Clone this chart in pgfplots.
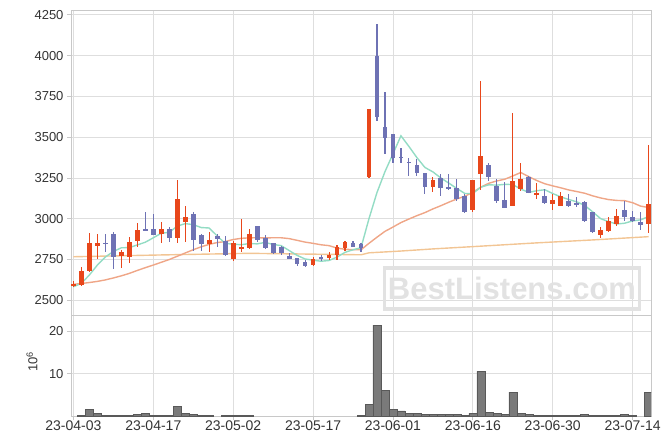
\documentclass[border=0pt]{standalone}
\usepackage{pgfplots}
\pgfplotsset{compat=1.18}
\usepackage{pgfplotstable}
\usepackage{fontspec}
\setmainfont{Liberation Sans}
\definecolor{upc}{HTML}{E8471B}
\definecolor{dnc}{HTML}{6E72B4}
\definecolor{ma5c}{HTML}{93DCC4}
\definecolor{ma20c}{HTML}{EFA687}
\definecolor{ma60c}{HTML}{F2C594}
\definecolor{gridc}{HTML}{DEDEDE}
\definecolor{axc}{HTML}{C8C8C8}
\definecolor{txt}{HTML}{333333}
\definecolor{volc}{HTML}{7A7A7A}
\definecolor{wmc}{HTML}{E2E2E2}

\pgfplotstableread{
i o h l c
0 2585 2620 2580 2600
1 2595 2706 2590 2680
2 2682 2910 2675 2850
3 2830 2904 2751 2850
6 2771 2808 2696 2794
7 2767 2890 2727 2857
8 2865 2972 2828 2931
11 2904 2978 2849 2935
13 2884 3237 2853 3121
14 2982 3078 2859 3008
17 2847 2918 2794 2871
20 2755 2865 2743 2849
21 2814 3000 2796 2827
22 2822 2935 2816 2906
30 2714 2763 2708 2751
32 2761 2794 2749 2778
33 2776 2839 2747 2825
34 2822 2865 2804 2857
37 3254 3675 3250 3670
45 3196 3254 3165 3237
50 3053 3239 3043 3237
51 3276 3845 3176 3384
55 3078 3646 3076 3231
56 3184 3339 3172 3243
58 3147 3217 3119 3157
60 3092 3149 3053 3115
61 3080 3162 3078 3139
66 2900 2951 2880 2931
67 2926 3009 2920 2986
68 2966 3058 2955 3016
72 2966 3451 2910 3090
}\upT

\pgfplotstableread{
i o h l c
4 2852 2904 2798 2848
5 2906 2917 2690 2767
9 2935 3039 2925 2931
10 2935 3029 2902 2902
12 2935 2947 2859 2884
15 3031 3039 2804 2871
16 2902 2906 2802 2845
18 2894 2906 2825 2877
19 2863 2896 2771 2779
23 2955 2957 2859 2869
24 2884 2898 2814 2822
25 2849 2851 2784 2788
26 2825 2835 2776 2792
27 2771 2788 2751 2755
28 2757 2761 2712 2720
29 2733 2745 2706 2712
31 2763 2776 2743 2759
35 2849 2863 2825 2829
36 2843 2853 2794 2822
38 3997 4191 3600 3625
39 3562 3778 3396 3496
40 3519 3521 3339 3374
41 3380 3435 3339 3376
42 3347 3370 3263 3343
43 3327 3364 3262 3282
44 3278 3280 3151 3196
46 3251 3272 3141 3190
47 3194 3272 3176 3184
48 3190 3241 3110 3119
49 3139 3151 3033 3043
52 3329 3339 3231 3257
53 3200 3241 3098 3108
54 3115 3227 3065 3067
57 3257 3259 3155 3159
59 3139 3180 3090 3098
62 3108 3149 3070 3080
63 3098 3131 3073 3086
64 3102 3108 2982 2988
65 3039 3043 2910 2917
69 3053 3108 2988 3012
70 3008 3047 2980 2988
71 2980 3041 2931 2963
}\dnT

\pgfplotstableread{
i v
0 2583
1 2604
2 2655
3 2716
4 2765.6
5 2799
6 2821.8
7 2823.2
8 2839.4
9 2856
10 2883
11 2911.2
12 2916.6
13 2954.6
14 2970
15 2963.8
16 2945.8
17 2943.2
18 2894.4
19 2848.6
20 2844.2
21 2840.6
22 2847.6
23 2846
24 2854.6
25 2842.4
26 2835.4
27 2805.2
28 2775.4
29 2753.4
30 2746
31 2739.4
32 2744
33 2765
34 2794
35 2809.6
36 2822.2
37 3000.6
38 3160.6
39 3288.4
40 3397.4
41 3508.2
42 3442.8
43 3374.2
44 3314.2
45 3286.8
46 3249.6
47 3217.8
48 3185.2
49 3154.6
50 3154.6
51 3193.4
52 3208
53 3205.8
54 3210.6
55 3209.4
56 3181.2
57 3161.6
58 3171.4
59 3177.6
60 3154.4
61 3133.6
62 3117.8
63 3103.6
64 3081.6
65 3042
66 3000.4
67 2981.6
68 2967.6
69 2972.4
70 2986.6
71 2993
72 3013.8
}\maA

\pgfplotstableread{
i v
0 2598
1 2603
2 2609
3 2616
4 2625
5 2637
6 2650
7 2665
8 2683
9 2700
10 2716
11 2733
12 2750
13 2770
14 2790
15 2810
16 2828
17 2843
18 2854
19 2860
20 2872.5
21 2879.9
22 2882.7
23 2883.6
24 2882.3
25 2883.4
26 2883.3
27 2878.2
28 2867.6
29 2856.7
30 2849.1
31 2840.3
32 2835
33 2820.2
34 2812.7
35 2810.6
36 2809.4
37 2849.4
38 2886.8
39 2922.6
40 2948.9
41 2976.3
42 2998.2
43 3018.8
44 3037.5
45 3060
46 3079.9
47 3101.3
48 3121.3
49 3137.8
50 3162.1
51 3193.4
52 3217.3
53 3231.5
54 3242
55 3262.1
56 3283.1
57 3257.6
58 3234.2
59 3214.3
60 3201.3
61 3189.5
62 3176.3
63 3166.5
64 3156.1
65 3140.1
66 3127.2
67 3117.3
68 3112.1
69 3110.6
70 3098.1
71 3077.1
72 3068.7
}\maB

\pgfplotstableread{
i v
0 2767
11 2778
22 2788
36 2779
37 2791
41 2802
45 2815
50 2829
58 2852
65 2870
72 2890
}\maC

\pgfplotstableread{
i v
1 0.15
2 1.6
3 0.6
4 0.15
5 0.15
6 0.15
7 0.15
8 0.45
9 0.7
10 0.15
11 0.15
12 0.15
13 2.3
14 0.6
15 0.4
16 0.15
17 0.15
19 0.15
20 0.15
21 0.15
22 0.15
36 0.15
37 2.7
38 21.4
39 6.0
40 1.6
41 1.2
42 0.6
43 0.6
44 0.4
45 0.4
46 0.4
47 0.4
48 0.4
49 0.15
50 0.6
51 10.5
52 0.9
53 0.6
54 0.4
55 5.6
56 0.6
57 0.4
58 0.15
59 0.15
60 0.15
61 0.15
62 0.15
63 0.15
64 0.4
65 0.15
66 0.15
67 0.15
68 0.15
69 0.4
70 0.15
72 5.6
}\volT

\begin{document}
\begin{tikzpicture}
\useasboundingbox (0,0) rectangle (671pt,445pt);
\pgfplotsset{base/.style={
  scale only axis, width=580pt,
  xmin=-0.3, xmax=72.3, xtick={0,10,...,70},
  grid=major, major grid style={gridc, line width=0.8pt},
  axis line style={axc, line width=0.8pt},
  tick style={axc, line width=0.8pt},
  major tick length=4pt, tick align=outside,
  xtick pos=bottom, ytick pos=left,
  ticklabel style={font=\fontsize{13}{15}\selectfont, text=txt},
  /pgf/number format/assume math mode=true,
  /pgf/number format/1000 sep={},
}}
\begin{axis}[base, at={(71pt,130pt)}, anchor=south west, height=305pt,
  ymin=2410, ymax=4279, ytick={2500,2750,...,4250},
  xticklabels={}, xtick style={draw=none}]
\addplot[ma60c, line width=1.4pt] table[x=i,y=v]{\maC};
\addplot[ma20c, line width=1.4pt] table[x=i,y=v]{\maB};
\addplot[ma5c, line width=1.4pt] table[x=i,y=v]{\maA};
% wicks
\addplot[draw=none, error bars/.cd, y dir=both, y explicit, error mark=none,
  error bar style={draw=upc, line width=1.1pt}]
  table[x=i, y expr={(\thisrow{h}+\thisrow{l})/2}, y error expr={(\thisrow{h}-\thisrow{l})/2}]{\upT};
\addplot[draw=none, error bars/.cd, y dir=both, y explicit, error mark=none,
  error bar style={draw=dnc, line width=1.1pt}]
  table[x=i, y expr={(\thisrow{h}+\thisrow{l})/2}, y error expr={(\thisrow{h}-\thisrow{l})/2}]{\dnT};
% bodies
\addplot[draw=none, error bars/.cd, y dir=both, y explicit, error mark=none,
  error bar style={draw=upc, line width=4.8pt}]
  table[x=i, y expr={(\thisrow{o}+\thisrow{c})/2}, y error expr={abs(\thisrow{c}-\thisrow{o})/2}]{\upT};
\addplot[draw=none, error bars/.cd, y dir=both, y explicit, error mark=none,
  error bar style={draw=dnc, line width=4.8pt}]
  table[x=i, y expr={(\thisrow{o}+\thisrow{c})/2}, y error expr={abs(\thisrow{c}-\thisrow{o})/2}]{\dnT};
\node[draw=wmc, line width=3.5pt, text=wmc, font=\bfseries\fontsize{31}{31}\selectfont,
  minimum width=255pt, minimum height=41pt, inner sep=0pt] at (axis cs:54.9,2572) {BestListens.com};
\end{axis}
\begin{axis}[base, at={(71pt,29pt)}, anchor=south west, height=101pt,
  ymin=0, ymax=23.8, ytick={10,20},
  xticklabels={23-04-03,23-04-17,23-05-02,23-05-17,23-06-01,23-06-16,23-06-30,23-07-14},
  xticklabel style={font=\fontsize{14}{16}\selectfont, inner sep=1pt},
  ylabel={10\textsuperscript{6}},
  ylabel style={at={(axis description cs:-0.0672,0.535)}, anchor=center, font=\fontsize{13}{15}\selectfont, text=txt}]
\addplot[ybar, bar width=1, bar shift=0pt, fill=volc, draw=black!65, line width=0.5pt] table[x=i,y=v]{\volT};
\end{axis}
\end{tikzpicture}
\end{document}
